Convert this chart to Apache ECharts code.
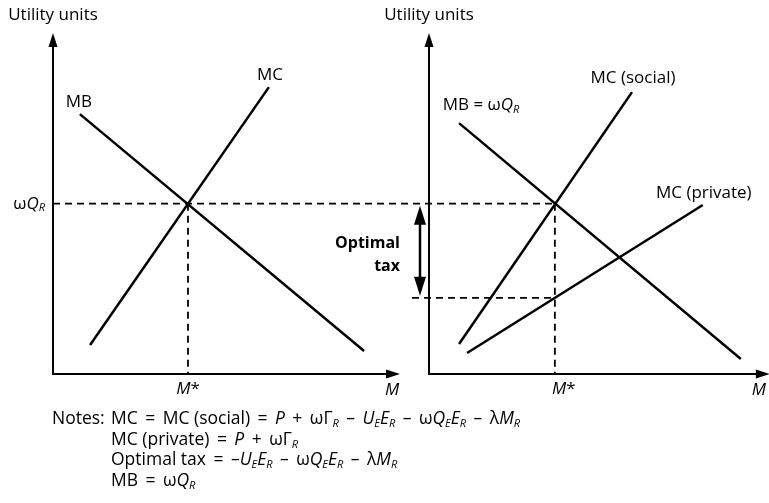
<!DOCTYPE html>
<html><head><meta charset="utf-8">
<script src="https://cdn.jsdelivr.net/npm/echarts@6/dist/echarts.min.js"></script>
<style>html,body{margin:0;padding:0;background:#fff}#c{width:769px;height:503px}</style>
</head><body><div id="c"></div>
<script>
// ---- data (abstract utility / quantity units, 0–100 on each axis) ----
const leftMB = [[91.5, 6.9], [7.9, 77.8]];
const leftMC = [[10.9, 8.7], [63.5, 85.9]];
const rightMB = [[93.4, 4.5], [9.0, 75.1]];
const rightMCsocial = [[9.0, 9.0], [60.8, 84.4]];
const rightMCprivate = [[11.4, 6.3], [82.0, 50.6]];
const mStar = [39.7, 37.7];      // optimum M* (left panel, right panel)
const eqLevel = [51];            // ωQ_R level
const taxLevel = [22.8];         // MC(private) at M*
const yTickLabels = ['{g|ω}{i|Q}{s|R}'];
const xTickLabels = ['{i|M}*'];
const curveNames = ['MB', 'MC', 'MB = ω{i|Q}{s|R}', 'MC (social)', 'MC (private)'];
const axisNames = ['Utility units', 'M'];
const noteHead = 'Notes:';
const T = ' \u2009';
const noteLines = [
  'MC' + T + '=' + T + 'MC (social)' + T + '=' + T + '{i|P}' + T + '+' + T + 'ωΓ{s|R}' + T + '–' + T + '{i|U}{s|E}{i|E}{s|R}' + T + '–' + T + 'ω{i|Q}{s|E}{i|E}{s|R}' + T + '–' + T + 'λ{i|M}{s|R}',
  'MC (private)' + T + '=' + T + '{i|P}' + T + '+' + T + 'ωΓ{s|R}',
  'Optimal tax' + T + '=' + T + '–{i|U}{s|E}{i|E}{s|R}' + T + '–' + T + 'ω{i|Q}{s|E}{i|E}{s|R}' + T + '–' + T + 'λ{i|M}{s|R}',
  'MB' + T + '=' + T + 'ω{i|Q}{s|R}'
];

// ---- styling ----
const FONT = 'Open Sans';
const FS = 17;
const NFS = 17.5;
const rich = {
  g: {fontFamily: FONT, fontSize: FS, lineHeight: 20, color: '#000'},
  i: {fontFamily: FONT, fontSize: FS, fontStyle: 'italic', lineHeight: 20, color: '#000'},
  s: {fontFamily: FONT, fontSize: 11, fontStyle: 'italic', lineHeight: 11, verticalAlign: 'bottom', color: '#000'}
};
const txt = {fontFamily: FONT, fontSize: FS, color: '#000', lineHeight: 20, rich: rich};
const dash = {color: '#000', width: 1.8, type: [7, 5]};

function xAxisOf(g, labelPad) {
  return {
    gridIndex: g, type: 'value', min: 0, max: 100,
    axisLine: {show: true, onZero: false, lineStyle: {color: '#000', width: 2},
               symbol: ['none', 'triangle'], symbolSize: [9, 14]},
    axisTick: {show: false}, splitLine: {show: false},
    axisLabel: Object.assign({customValues: [mStar[g]], margin: 5, padding: labelPad,
               formatter: function () { return xTickLabels[0]; }}, txt),
    name: axisNames[1], nameLocation: 'end', nameGap: g === 0 ? -1 : -4,
    nameTextStyle: {fontFamily: FONT, fontSize: FS, fontStyle: 'italic', color: '#000',
                    align: 'center', verticalAlign: 'top', padding: [8, 0, 0, 0]}
  };
}
function yAxisOf(g) {
  return {
    gridIndex: g, type: 'value', min: 0, max: 100,
    axisLine: {show: true, onZero: false, lineStyle: {color: '#000', width: 2},
               symbol: ['none', 'triangle'], symbolSize: [9, 14]},
    axisTick: {show: false}, splitLine: {show: false},
    axisLabel: g === 0 ? Object.assign({show: true, customValues: eqLevel, margin: 8,
               formatter: function () { return yTickLabels[0]; }}, txt) : {show: false},
    name: axisNames[0], nameLocation: 'end', nameGap: 25,
    nameTextStyle: {fontFamily: FONT, fontSize: FS, color: '#000', align: 'center', verticalAlign: 'middle'}
  };
}
function curve(data, g, name, offset) {
  return {
    type: 'line', xAxisIndex: g, yAxisIndex: g, silent: true,
    symbol: 'circle', symbolSize: 0, showSymbol: true,
    lineStyle: {color: '#000', width: 2.5}, itemStyle: {color: '#000'},
    data: data.map((p, k) => k === data.length - 1
      ? {value: p, label: Object.assign({show: true, position: 'top', distance: 5, offset: offset,
          formatter: name}, txt)}
      : {value: p})
  };
}
function dashed(data, g, id) {
  return {type: 'line', id: id, xAxisIndex: g, yAxisIndex: g, silent: true, clip: false,
          symbol: 'none', lineStyle: dash, data: data};
}

const chart = echarts.init(document.getElementById('c'), null, {renderer: 'canvas'});
const option = {
  animation: false,
  backgroundColor: '#fff',
  textStyle: {fontFamily: FONT},
  grid: [
    {left: 53, top: 40, width: 340, height: 334},
    {left: 429, top: 40, width: 335, height: 334}
  ],
  xAxis: [xAxisOf(0, [0, 0, 0, 0]), xAxisOf(1, [0, 0, 0, 18])],
  yAxis: [yAxisOf(0), yAxisOf(1)],
  series: [
    {
      // ωQ_R level: from the left axis across to M* of the right panel
      type: 'custom', id: 'eqLine', xAxisIndex: 0, yAxisIndex: 0, silent: true, clip: false,
      data: [[eqLevel[0], 100]],
      renderItem: function (params, api) {
        const a = api.coord([0, api.value(0)]);
        const b = api.coord([api.value(1), api.value(0)]);
        return {type: 'line', shape: {x1: a[0], y1: a[1], x2: b[0], y2: b[1]},
                style: {stroke: '#000', lineWidth: 1.8, lineDash: [7, 5]}};
      }
    },
    dashed([[mStar[0], eqLevel[0]], [mStar[0], 0]], 0, 'mStarL'),
    dashed([[mStar[1], eqLevel[0]], [mStar[1], 0]], 1, 'mStarR'),
    curve(leftMB, 0, curveNames[0], [-1, 3]),
    curve(leftMC, 0, curveNames[1], [1, 3]),
    curve(rightMB, 1, curveNames[2], [22, -3]),
    curve(rightMCsocial, 1, curveNames[3], [1, 1]),
    curve(rightMCprivate, 1, curveNames[4], [1, 3]),
    {
      type: 'custom', xAxisIndex: 1, yAxisIndex: 1, silent: true, clip: false,
      data: [[mStar[1], eqLevel[0], taxLevel[0]]],
      renderItem: function (params, api) {
        const top = api.coord([0, api.value(1)]);
        const low = api.coord([0, api.value(2)]);
        const mp = api.coord([api.value(0), api.value(2)]);
        const ax = top[0] - 9, t = top[1] + 2, b = low[1] - 2;
        const hw = 6, hl = 19;
        return {type: 'group', children: [
          {type: 'line', shape: {x1: top[0] - 17, y1: low[1], x2: mp[0], y2: low[1]},
           style: {stroke: '#000', lineWidth: 1.8, lineDash: [7, 5]}},
          {type: 'line', shape: {x1: ax, y1: t + 10, x2: ax, y2: b - 10},
           style: {stroke: '#000', lineWidth: 2.5}},
          {type: 'polygon', shape: {points: [[ax, t], [ax - hw, t + hl], [ax + hw, t + hl]]},
           style: {fill: '#000'}},
          {type: 'polygon', shape: {points: [[ax, b], [ax - hw, b - hl], [ax + hw, b - hl]]},
           style: {fill: '#000'}},
          {type: 'text', x: top[0] - 29, y: (t + b) / 2 + 4,
           style: {text: 'Optimal\ntax', fontFamily: FONT, fontSize: 16, fontWeight: 'bold',
                   fill: '#000', align: 'right', verticalAlign: 'middle', lineHeight: 23}}
        ]};
      }
    }
  ],
  graphic: [
    {type: 'text', x: 52, y: 409, silent: true,
     style: {text: noteHead, fontFamily: FONT, fontSize: NFS, fill: '#000', lineHeight: 20.5,
             align: 'left', verticalAlign: 'top'}},
    {type: 'text', x: 111, y: 409, silent: true,
     style: {text: noteLines.join('\n'), fontFamily: FONT, fontSize: NFS, fill: '#000',
             lineHeight: 20.5, align: 'left', verticalAlign: 'top',
             rich: {
               i: {fontFamily: FONT, fontSize: NFS, fontStyle: 'italic', lineHeight: 20.5, fill: '#000'},
               s: {fontFamily: FONT, fontSize: 11, fontStyle: 'italic', lineHeight: 11, verticalAlign: 'bottom', fill: '#000'}
             }}}
  ]
};
chart.setOption(option);
// the dashed ωQ_R line ends at M* of the right panel: find that point in left-panel units
const px = chart.convertToPixel({xAxisIndex: 1, yAxisIndex: 1}, [mStar[1], eqLevel[0]]);
const back = chart.convertFromPixel({xAxisIndex: 0, yAxisIndex: 0}, px);
chart.setOption({series: [{id: 'eqLine', data: [[eqLevel[0], back[0]]]}]});
</script></body></html>
